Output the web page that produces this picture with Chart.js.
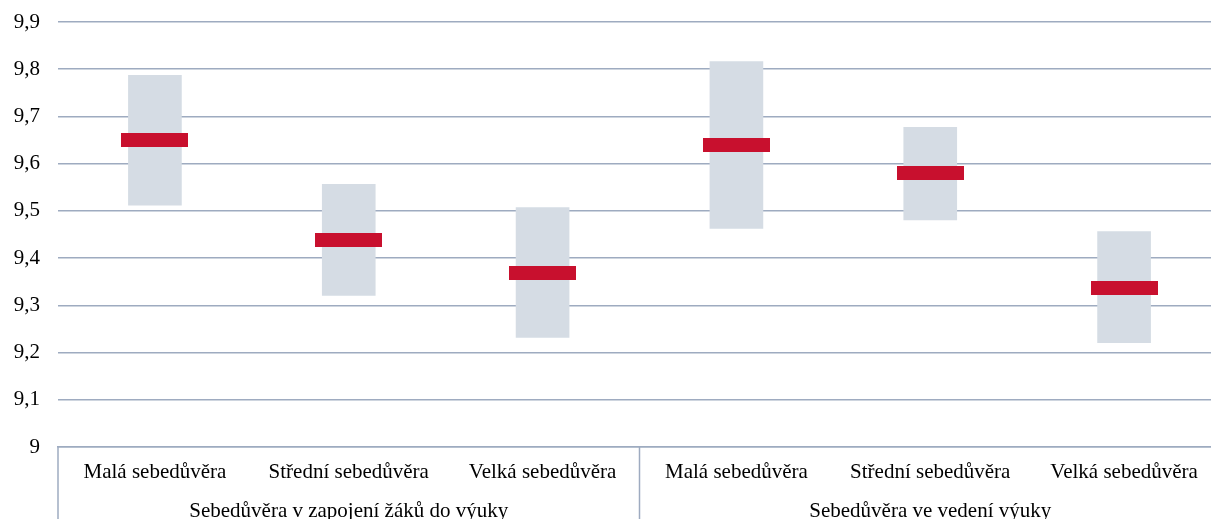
<!DOCTYPE html>
<html>
<head>
<meta charset="utf-8">
<script src="https://cdn.jsdelivr.net/npm/chart.js@4"></script>
<style>
  html, body { margin: 0; padding: 0; background: #fff; overflow: hidden; }
  #wrap { width: 1211px; height: 519px; overflow: hidden; }
  canvas { display: block; }
</style>
</head>
<body>
<div id="wrap"><canvas id="chart" width="1232" height="519" style="width:1232px;height:519px"></canvas></div>
<script>
// categories and groups
const categories = ['Malá sebedůvěra', 'Střední sebedůvěra', 'Velká sebedůvěra',
                    'Malá sebedůvěra', 'Střední sebedůvěra', 'Velká sebedůvěra'];
const groups = ['Sebedůvěra v zapojení žáků do výuky', 'Sebedůvěra ve vedení výuky'];
const groupSizes = [3, 3];

// interval bounds and means
const lowValues = [9.512, 9.321, 9.232, 9.463, 9.481, 9.221];
const highValues = [9.787, 9.556, 9.507, 9.816, 9.677, 9.456];
const meanValues = [9.650, 9.439, 9.369, 9.639, 9.580, 9.337];

// y axis ticks
const yTickValues = [9, 9.1, 9.2, 9.3, 9.4, 9.5, 9.6, 9.7, 9.8, 9.9];
const yTickLabels = ['9', '9,1', '9,2', '9,3', '9,4', '9,5', '9,6', '9,7', '9,8', '9,9'];

const gridColor = '#9EABC0';
const fontFamily = "'Liberation Serif', 'Times New Roman', serif";

// red mean marker drawn as a point image
const marker = document.createElement('canvas');
marker.width = 67;
marker.height = 14;
const mctx = marker.getContext('2d');
mctx.fillStyle = '#C8102E';
mctx.fillRect(0, 0, marker.width, marker.height);

const groupAxisPlugin = {
  id: 'groupAxis',
  afterDraw(chart) {
    const { ctx, chartArea } = chart;
    const x = chart.scales.x;
    const bottom = chartArea.bottom;
    ctx.save();
    ctx.strokeStyle = gridColor;
    ctx.lineWidth = 1.5;
    let start = 0;
    const edges = [x.getPixelForValue(-0.5)];
    groupSizes.forEach(n => {
      start += n;
      edges.push(x.getPixelForValue(start - 0.5));
    });
    edges.forEach(px => {
      ctx.beginPath();
      ctx.moveTo(px, bottom);
      ctx.lineTo(px, chart.height);
      ctx.stroke();
    });
    ctx.fillStyle = '#000';
    ctx.font = '21px ' + fontFamily;
    ctx.textAlign = 'center';
    ctx.textBaseline = 'alphabetic';
    groups.forEach((g, i) => {
      ctx.fillText(g, (edges[i] + edges[i + 1]) / 2, bottom + 70);
    });
    ctx.restore();
  }
};

new Chart(document.getElementById('chart'), {
  type: 'bar',
  data: {
    labels: categories,
    datasets: [
      {
        type: 'line',
        label: 'Průměr',
        data: meanValues,
        showLine: false,
        pointStyle: marker,
        pointRadius: 10,
        order: 0
      },
      {
        label: 'Interval',
        data: lowValues.map((v, i) => [v, highValues[i]]),
        backgroundColor: '#D5DCE4',
        borderWidth: 0,
        barThickness: 53,
        order: 1
      }
    ]
  },
  options: {
    responsive: false,
    animation: false,
    events: [],
    layout: { padding: { top: 22, right: 0, left: 0, bottom: 0 } },
    plugins: {
      legend: { display: false },
      tooltip: { enabled: false }
    },
    scales: {
      x: {
        grid: { display: false, drawTicks: false },
        border: { display: true, color: gridColor, width: 1.5 },
        ticks: {
          color: '#000',
          font: { family: fontFamily, size: 21 },
          padding: 13,
          maxRotation: 0,
          autoSkip: false
        },
        afterFit(scale) {
          scale.height = 72;
          scale.paddingLeft = 0;
          scale.paddingRight = 0;
        }
      },
      y: {
        min: 9,
        max: 9.9,
        grid: { color: gridColor, lineWidth: 1.5, drawTicks: false },
        border: { display: false },
        afterBuildTicks(scale) {
          scale.ticks = yTickValues.map(v => ({ value: v }));
        },
        ticks: {
          color: '#000',
          font: { family: fontFamily, size: 21 },
          padding: 18,
          callback: (value, index) => yTickLabels[index]
        },
        afterFit(scale) {
          scale.width = 58;
          scale.paddingTop = 0;
          scale.paddingBottom = 0;
        }
      }
    }
  },
  plugins: [groupAxisPlugin]
});
</script>
</body>
</html>
